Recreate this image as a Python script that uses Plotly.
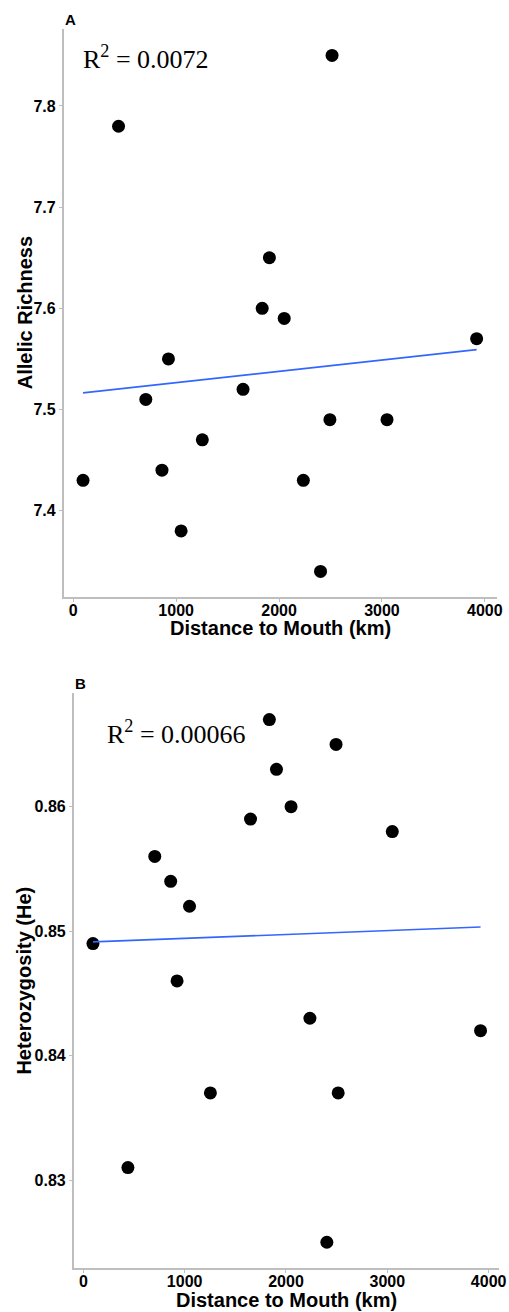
import numpy as np
import plotly.graph_objects as go

# Data
distance_km = [95, 440, 705, 862, 925, 1048, 1254, 1650, 1836, 1906, 2050, 2236, 2403, 2494, 2515, 3049, 3920]
allelic_richness = [7.43, 7.78, 7.51, 7.44, 7.55, 7.38, 7.47, 7.52, 7.60, 7.65, 7.59, 7.43, 7.34, 7.49, 7.85, 7.49, 7.57]
heterozygosity = [0.849, 0.831, 0.856, 0.854, 0.846, 0.852, 0.837, 0.859, 0.867, 0.863, 0.860, 0.843, 0.825, 0.865, 0.837, 0.858, 0.842]
x_ticks = [0, 1000, 2000, 3000, 4000]
ar_ticks = [7.4, 7.5, 7.6, 7.7, 7.8]
he_ticks = [0.83, 0.84, 0.85, 0.86]
r2_labels = ["0.0072", "0.00066"]
x_title = "Distance to Mouth (km)"
y_titles = ["Allelic Richness", "Heterozygosity (He)"]

W, H = 509, 1312
x = np.array(distance_km, dtype=float)

def fit_line(y):
    b, a = np.polyfit(x, np.array(y, dtype=float), 1)
    xs = np.array([x.min(), x.max()])
    return xs, a + b * xs

fig = go.Figure()
for y, xa, ya in [(allelic_richness, "x", "y"), (heterozygosity, "x2", "y2")]:
    fig.add_trace(go.Scatter(x=distance_km, y=y, mode="markers", xaxis=xa, yaxis=ya,
                             marker=dict(color="black", size=13), showlegend=False))
    lx, ly = fit_line(y)
    fig.add_trace(go.Scatter(x=lx, y=ly, mode="lines", xaxis=xa, yaxis=ya,
                             line=dict(color="#3366FF", width=1.6), showlegend=False))

tickfont = dict(family="Liberation Sans, Arial, sans-serif", size=16, color="black", weight="bold")
titlefont = dict(family="Liberation Sans, Arial, sans-serif", size=20, color="black", weight="bold")
axis_common = dict(showline=True, linecolor="#BEBEBE", linewidth=1.6, showgrid=False, zeroline=False,
                   ticks="outside", ticklen=3, tickcolor="#BEBEBE", tickwidth=1, tickfont=tickfont,
                   mirror=False, automargin=False)

def px_x(v):
    return v / W

def px_y(v):
    return 1 - v / H

fig.update_layout(
    width=W, height=H, margin=dict(l=0, r=0, t=0, b=0),
    plot_bgcolor="white", paper_bgcolor="white",
    xaxis=dict(axis_common, domain=[px_x(63.7), px_x(496.7)], range=[-93, 4115], tickvals=x_ticks,
               anchor="y", ticklabelstandoff=-5),
    yaxis=dict(axis_common, domain=[px_y(597.3), px_y(29.3)], range=[7.3144, 7.8758], tickvals=ar_ticks,
               tickformat=".1f", anchor="x"),
    xaxis2=dict(axis_common, domain=[px_x(73.7), px_x(499.3)], range=[-95, 4105], tickvals=x_ticks,
                anchor="y2", ticklabelstandoff=-5),
    yaxis2=dict(axis_common, domain=[px_y(1268), px_y(693.3)], range=[0.82293, 0.86911], tickvals=he_ticks,
                tickformat=".2f", anchor="x2"),
)

def ann(xp, yp, text, font, xanchor="center", angle=0):
    fig.add_annotation(x=px_x(xp), y=px_y(yp), xref="paper", yref="paper", xanchor=xanchor,
                       yanchor="middle", text=text, showarrow=False, font=font, textangle=angle)

# axis titles
ann(280.2, 627.5, x_title, titlefont)
ann(286.5, 1300, x_title, titlefont)
ann(25, 313.3, y_titles[0], titlefont, angle=-90)
ann(24, 980.6, y_titles[1], titlefont, angle=-90)

serif = dict(family="Liberation Serif, DejaVu Serif, serif", size=26, color="black")
panel = dict(family="Liberation Sans, Arial, sans-serif", size=15, color="black", weight="bold")
ann(81, 57, "R<sup>2</sup> = " + r2_labels[0], serif, xanchor="left")
ann(105, 732, "R<sup>2</sup> = " + r2_labels[1], serif, xanchor="left")
ann(70, 19, "A", panel)
ann(80, 683, "B", panel)

fig.write_html("out.html", config={"displayModeBar": False},
               post_script="document.body.style.margin='0';document.body.style.overflow='hidden';")
